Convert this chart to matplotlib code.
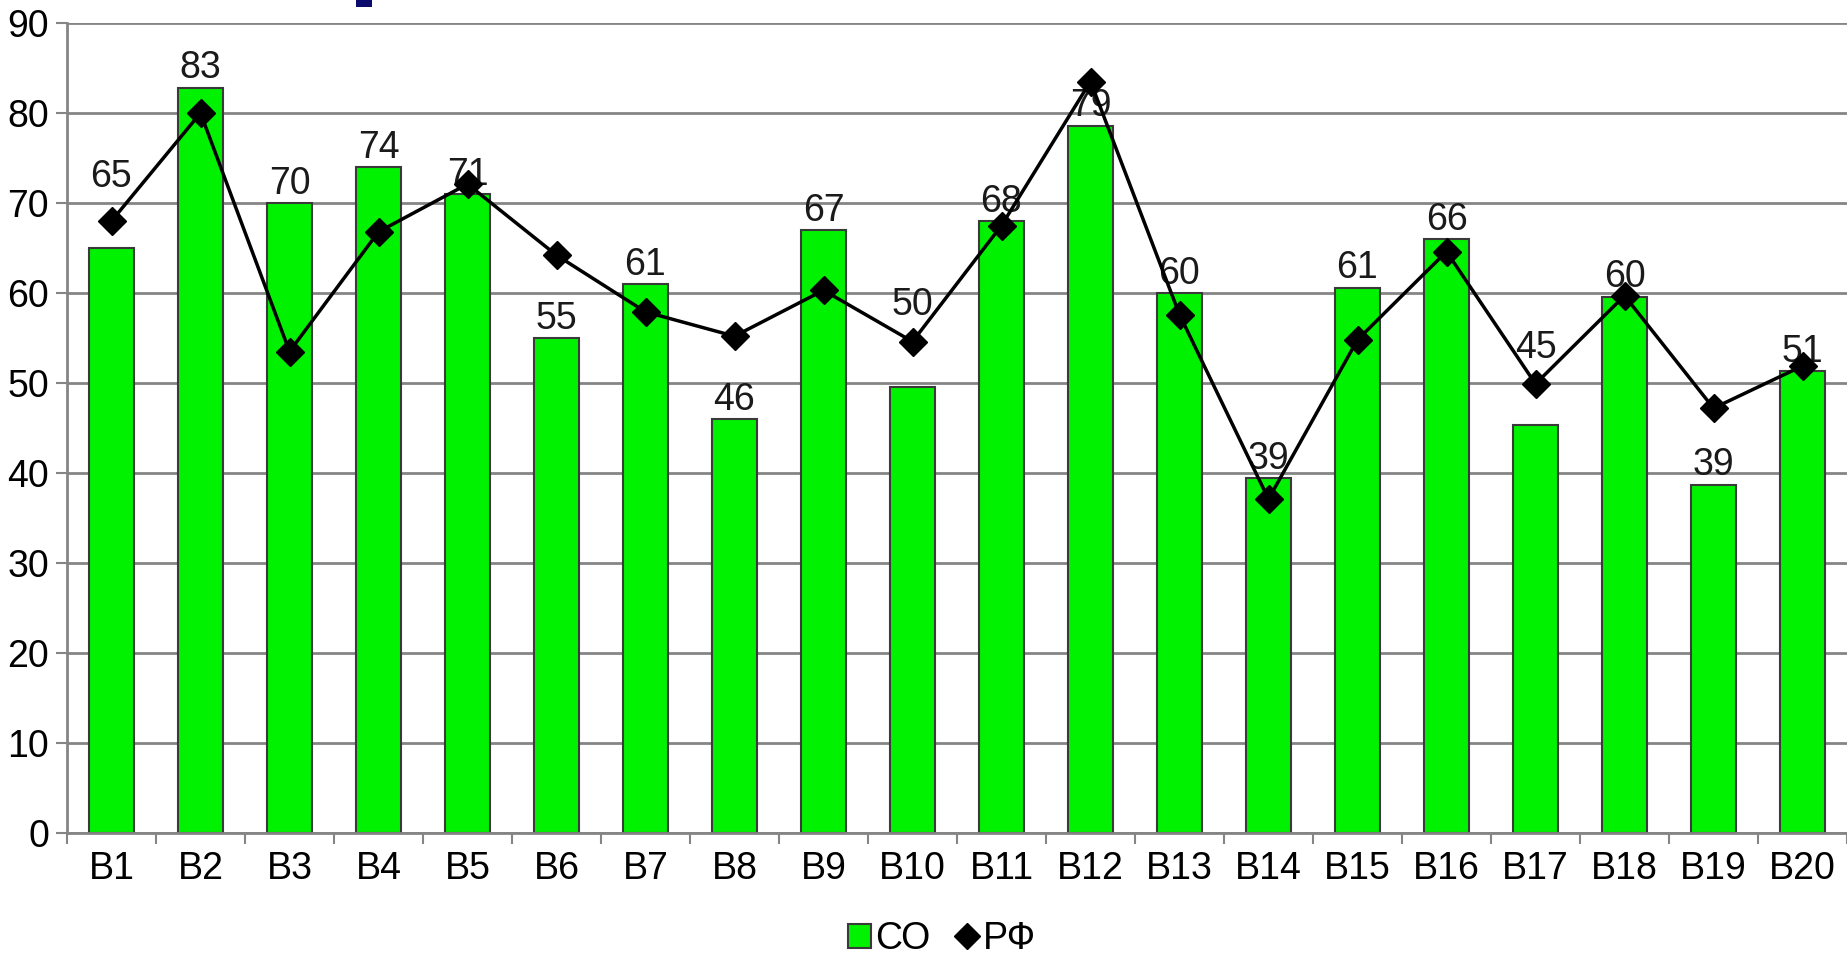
import numpy as np
import matplotlib.pyplot as plt
from matplotlib.patches import Rectangle
from matplotlib.lines import Line2D

plt.rcParams['font.family'] = ['Liberation Sans', 'DejaVu Sans']

categories = ['B1', 'B2', 'B3', 'B4', 'B5', 'B6', 'B7', 'B8', 'B9', 'B10',
              'B11', 'B12', 'B13', 'B14', 'B15', 'B16', 'B17', 'B18', 'B19', 'B20']
so_values = [65, 82.8, 70, 74, 71, 55, 61, 46, 67, 49.6,
             68, 78.6, 60, 39.4, 60.6, 66, 45.3, 59.6, 38.7, 51.3]
rf_values = [68.0, 80.0, 53.5, 66.8, 72.1, 64.2, 57.9, 55.2, 60.3, 54.6,
             67.5, 83.5, 57.6, 37.1, 54.8, 64.6, 49.9, 59.7, 47.2, 51.9]
# bars whose value label sits above the РФ marker instead of the bar
labels_above_marker = ['B1', 'B10', 'B17']
yticks = list(range(0, 91, 10))

grid_color = '#858585'
bar_color = '#00f200'
fsize = 27

fig = plt.figure(figsize=(18.47, 9.58), dpi=100)
ax = fig.add_axes([67 / 1847, 125 / 958, 1 - 67 / 1847, 810 / 958])

x = np.arange(len(categories))
ax.bar(x, so_values, width=0.5, color=bar_color, edgecolor='#3a3a3a',
       linewidth=1.5, zorder=2)
for xi, cat, so, rf in zip(x, categories, so_values, rf_values):
    if cat in labels_above_marker:
        off = 32 if cat == 'B1' else 26
        ax.annotate('%d' % round(so), (xi, rf), xytext=(0, off), textcoords='offset points',
                    ha='center', va='center', fontsize=fsize, color='#1a1a1a', zorder=3)
    else:
        ax.annotate('%d' % round(so), (xi, so), xytext=(0, 1), textcoords='offset points',
                    ha='center', va='bottom', fontsize=fsize, color='#1a1a1a', zorder=3)
ax.plot(x, rf_values, color='black', linewidth=2.5, marker='D', markersize=14,
        zorder=4)

ax.set_xlim(-0.5, len(categories) - 0.5)
ax.set_ylim(0, 90)
ax.set_yticks(yticks)
ax.set_xticks(x)
ax.set_xticklabels(categories)
ax.set_xticks(np.arange(len(categories) + 1) - 0.5, minor=True)
ax.tick_params(axis='x', which='major', length=0, pad=13, labelsize=fsize)
ax.tick_params(axis='x', which='minor', length=8, width=1.5, color=grid_color)
ax.tick_params(axis='y', length=8, width=1.5, color=grid_color, pad=5,
               labelsize=fsize)
ax.yaxis.grid(True, color=grid_color, linewidth=2)
ax.set_axisbelow(True)
for side in ['top', 'right']:
    ax.spines[side].set_visible(False)
for side in ['left', 'bottom']:
    ax.spines[side].set_color(grid_color)
    ax.spines[side].set_linewidth(2)

handles = [Rectangle((0, 0), 1, 1, facecolor=bar_color, edgecolor='#3a3a3a', linewidth=1.5),
           Line2D([], [], linestyle='none', marker='D', color='black', markersize=13)]
fig.legend(handles, ['СО', 'РФ'], loc='center', bbox_to_anchor=(0.51, 1 - 939 / 958),
           ncol=2, frameon=False, fontsize=fsize, handlelength=0.6, handleheight=0.6,
           handletextpad=0.1, columnspacing=0.7)

# fragment of a cut-off title at the top edge
fig.patches.append(Rectangle((356 / 1847, 1 - 7 / 958), 16 / 1847, 7 / 958,
                             transform=fig.transFigure, facecolor='#0b0b6e',
                             edgecolor='none'))

fig.savefig('out.png', dpi=100)
